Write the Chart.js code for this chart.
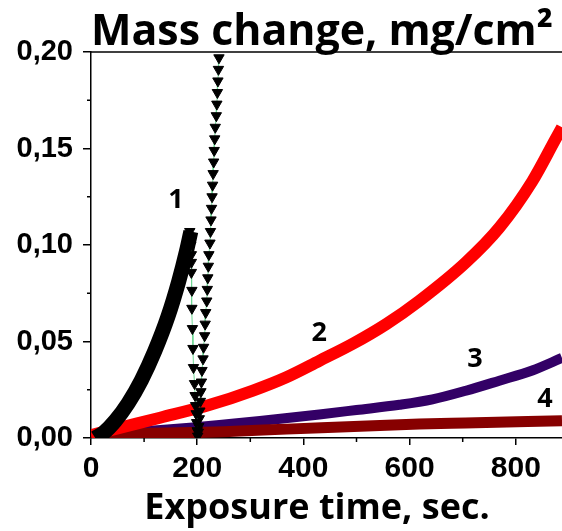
<!DOCTYPE html>
<html>
<head>
<meta charset="utf-8">
<script src="https://cdn.jsdelivr.net/npm/chart.js@4"></script>
<style>
  html, body { margin: 0; padding: 0; background: #fff; }
  canvas { display: block; }
</style>
</head>
<body>
<canvas id="massChart" width="562" height="531"></canvas>
<script>
// Textos
const chartTitle = 'Mass change, mg/cm²';
const xTitle = 'Exposure time, sec.';

// Ticks
const xMajorTicks = [0, 200, 400, 600, 800];
const xMinorTicks = [100, 300, 500, 700];
const yMajorTicks = [0, 0.05, 0.10, 0.15, 0.20];
const yMinorTicks = [0.025, 0.075, 0.125, 0.175];

// Curva 1 (negra)
const curve1Time = [8, 25, 46, 70, 95, 120, 145, 165, 180, 188];
const curve1Mass = [0.000, 0.003, 0.009, 0.018, 0.030, 0.045, 0.063, 0.081, 0.097, 0.107];

// Curva 2 (roja)
const curve2Time = [0, 50, 130, 224, 305, 368, 430, 493, 556, 618, 706, 769, 831, 875, 887];
const curve2Mass = [0.0015, 0.005, 0.0105, 0.0172, 0.0246, 0.0315, 0.040, 0.0488, 0.059, 0.071, 0.091, 0.109, 0.133, 0.155, 0.161];

// Curva 3 (morada)
const curve3Time = [40, 100, 192, 242, 318, 430, 500, 581, 643, 706, 769, 831, 887];
const curve3Mass = [0.002, 0.0035, 0.0055, 0.0068, 0.0088, 0.0122, 0.0145, 0.0172, 0.020, 0.0245, 0.0297, 0.035, 0.0415];

// Curva 4 (granate)
const curve4Time = [0, 51, 250, 368, 618, 705, 887];
const curve4Mass = [0.0012, 0.002, 0.0033, 0.0046, 0.0072, 0.0078, 0.0090];

// Triángulos: columna que baja desde la curva 1
const triATime = [186, 187, 188, 189, 189, 189, 190, 190, 191, 192, 193, 195, 196, 197, 198, 199, 200, 201];
const triAMass = [0.107, 0.103, 0.0999, 0.095, 0.091, 0.0858, 0.0765, 0.0672, 0.0567, 0.0464, 0.0365, 0.0282, 0.022, 0.0168, 0.0126, 0.008, 0.0038, 0.001];

// Triángulos: columna que baja desde arriba
const triBTime = [241, 240, 239, 238, 237, 236, 234, 233, 232, 231, 230, 229, 228, 227, 226, 225, 224, 222, 221, 220, 219, 218, 216, 215, 214, 212, 211, 209, 208, 207, 206, 205, 204, 203, 202];
const triBMass = [0.197, 0.191, 0.185, 0.179, 0.173, 0.167, 0.161, 0.155, 0.149, 0.143, 0.137, 0.131, 0.125, 0.119, 0.113, 0.107, 0.101, 0.095, 0.089, 0.083, 0.077, 0.071, 0.065, 0.059, 0.053, 0.047, 0.041, 0.035, 0.029, 0.024, 0.019, 0.014, 0.010, 0.006, 0.003];

// Etiquetas de curvas
const curveLabels = ['1', '2', '3', '4'];
const curveLabelTime = [160, 430, 723, 855];
const curveLabelMass = [0.123, 0.054, 0.041, 0.020];

const toPoints = (xs, ys) => xs.map((x, i) => ({ x: x, y: ys[i] }));

function lineSet(xs, ys, color, width) {
    return {
        data: toPoints(xs, ys),
        showLine: true,
        borderColor: color,
        borderWidth: width,
        pointRadius: 0,
        fill: false,
        cubicInterpolationMode: 'monotone',
        borderCapStyle: 'butt'
    };
}

function triangleSet(xs, ys) {
    return {
        data: toPoints(xs, ys),
        showLine: true,
        borderColor: '#6fd894',
        borderWidth: 1,
        pointStyle: 'triangle',
        rotation: 180,
        pointRadius: 6,
        pointBackgroundColor: '#000',
        pointBorderColor: '#000',
        pointBorderWidth: 1,
        fill: false
    };
}

// Plugin para marco superior, ticks menores, títulos y etiquetas
const decorPlugin = {
    id: 'decor',
    afterDraw(chart) {
        const ctx = chart.ctx;
        const area = chart.chartArea;
        const xs = chart.scales.x;
        const ys = chart.scales.y;
        ctx.save();
        ctx.strokeStyle = '#000';
        ctx.lineWidth = 1.5;
        // marco superior
        ctx.beginPath();
        ctx.moveTo(area.left, area.top);
        ctx.lineTo(area.right, area.top);
        ctx.stroke();
        // ticks menores
        ctx.beginPath();
        xMinorTicks.forEach(v => {
            const px = xs.getPixelForValue(v);
            ctx.moveTo(px, area.bottom);
            ctx.lineTo(px, area.bottom + 4);
        });
        yMinorTicks.forEach(v => {
            const py = ys.getPixelForValue(v);
            ctx.moveTo(area.left, py);
            ctx.lineTo(area.left - 4, py);
        });
        ctx.stroke();

        ctx.fillStyle = '#000';
        // título
        ctx.font = 'bold 43px "Open Sans"';
        ctx.textAlign = 'left';
        ctx.textBaseline = 'alphabetic';
        ctx.fillText(chartTitle, 91, 45, 462);
        // título eje x
        ctx.font = 'bold 36px "Open Sans"';
        ctx.textAlign = 'center';
        ctx.fillText(xTitle, 317, 519, 360);
        // etiquetas de curvas
        ctx.font = 'bold 27px "Open Sans"';
        ctx.textBaseline = 'middle';
        curveLabels.forEach((t, i) => {
            ctx.fillText(t, xs.getPixelForValue(curveLabelTime[i]), ys.getPixelForValue(curveLabelMass[i]));
        });
        ctx.restore();
    }
};

const ctx = document.getElementById('massChart').getContext('2d');
new Chart(ctx, {
    type: 'scatter',
    data: {
        datasets: [
            triangleSet(triATime, triAMass),
            triangleSet(triBTime, triBMass),
            lineSet(curve1Time, curve1Mass, '#000000', 15),
            lineSet(curve2Time, curve2Mass, '#ff0000', 12),
            lineSet(curve4Time, curve4Mass, '#870000', 11),
            lineSet(curve3Time, curve3Mass, '#330066', 10)
        ]
    },
    options: {
        responsive: false,
        animation: false,
        devicePixelRatio: 1,
        layout: { autoPadding: false, padding: { top: 52, left: 0, right: 0, bottom: 0 } },
        plugins: {
            legend: { display: false },
            tooltip: { enabled: false }
        },
        scales: {
            x: {
                type: 'linear',
                min: 0,
                max: 887,
                afterFit: scale => {
                    scale.height = 93;
                    scale.paddingRight = 0;
                    scale.paddingLeft = 0;
                },
                afterBuildTicks: scale => { scale.ticks = xMajorTicks.map(v => ({ value: v })); },
                ticks: {
                    color: '#000',
                    padding: 6,
                    font: { family: '"Liberation Sans", Arial', size: 30, weight: 'bold' },
                    maxRotation: 0,
                    callback: v => String(v)
                },
                grid: { drawOnChartArea: false, tickLength: 7, color: '#000', lineWidth: 1.5 },
                border: { display: true, color: '#000', width: 1.5 }
            },
            y: {
                type: 'linear',
                min: 0,
                max: 0.2,
                afterFit: scale => {
                    scale.width = 91;
                    scale.paddingTop = 0;
                    scale.paddingBottom = 0;
                },
                afterBuildTicks: scale => { scale.ticks = yMajorTicks.map(v => ({ value: v })); },
                ticks: {
                    color: '#000',
                    padding: 10,
                    font: { family: '"Liberation Sans", Arial', size: 29, weight: 'bold' },
                    callback: v => v.toFixed(2).replace('.', ',')
                },
                grid: { drawOnChartArea: false, tickLength: 8, color: '#000', lineWidth: 1.5 },
                border: { display: true, color: '#000', width: 1.5 }
            }
        }
    },
    plugins: [decorPlugin]
});
</script>
</body>
</html>
